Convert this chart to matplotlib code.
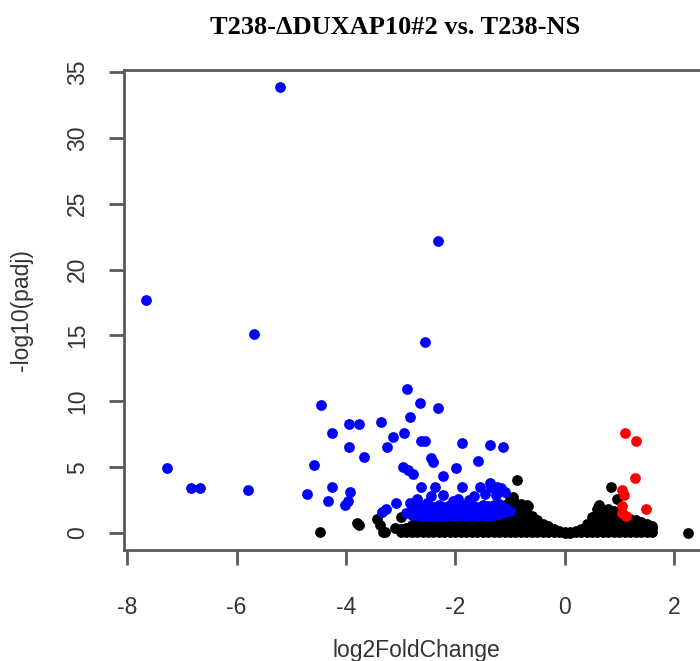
import numpy as np
import matplotlib
matplotlib.use("Agg")
import matplotlib.pyplot as plt

# Genes significativos (down) - azul
blue_lfc = [-5.21, -7.66, -2.32, -5.69, -2.56, -2.88, -2.65, -4.46, -2.32, -3.95,
            -3.77, -3.36, -2.83, -4.25, -2.93, -3.14, -2.62, -2.55, -1.87, -1.36,
            -1.13, -3.95, -3.25, -3.67, -2.44, -2.41, -4.59, -1.58, -1.98, -2.96,
            -2.86, -2.77, -2.22, -4.25, -4.72, -3.93, -4.33, -4.02, -3.96, -2.62,
            -2.38, -2.44, -2.22, -1.87, -1.55, -1.34, -1.16, -7.28, -6.84, -6.67,
            -5.80, -3.26, -3.08, -2.83, -2.52, -1.24, -1.37, -1.45, -1.25, -1.65,
            -1.95, -3.35, -2.70, -2.05, -1.75, -1.10]
blue_padj = [33.9, 17.7, 22.2, 15.1, 14.5, 10.9, 9.9, 9.7, 9.5, 8.3,
             8.3, 8.4, 8.8, 7.6, 7.6, 7.3, 7.0, 7.0, 6.8, 6.7,
             6.5, 6.5, 6.5, 5.8, 5.7, 5.4, 5.2, 5.5, 4.9, 5.0,
             4.8, 4.5, 4.3, 3.5, 3.0, 3.1, 2.4, 2.1, 2.4, 3.5,
             3.5, 2.8, 2.9, 3.5, 3.5, 3.5, 3.4, 4.9, 3.4, 3.45,
             3.3, 1.8, 2.25, 2.25, 2.3, 3.5, 3.8, 3.0, 2.9, 2.8,
             2.6, 1.6, 2.6, 2.4, 2.5, 3.1]

# Faixa densa de genes azuis logo acima do zero
band_lfc = [-2.9, -2.8, -2.7, -2.6, -2.5, -2.4, -2.3, -2.2, -2.1, -2.0,
            -1.9, -1.8, -1.7, -1.6, -1.5, -1.4, -1.3, -1.2, -1.1, -1.0]
band_padj = [[1.5], [1.4, 1.8], [1.35, 1.7, 2.0], [1.3, 1.65, 2.05], [1.3, 1.7, 2.1],
             [1.3, 1.65, 2.0], [1.3, 1.7, 2.1], [1.3, 1.6, 1.95], [1.35, 1.7, 2.1], [1.3, 1.65, 2.0],
             [1.35, 1.7, 2.15], [1.3, 1.6, 2.0], [1.35, 1.7, 2.1], [1.3, 1.65, 2.0], [1.35, 1.7, 2.1],
             [1.3, 1.65, 2.05], [1.4, 1.75, 2.1], [1.45, 1.8, 2.2], [1.6, 1.9], [1.7]]

# Genes significativos (up) - vermelho
red_lfc = [1.10, 1.31, 1.28, 1.05, 1.08, 1.05, 1.48, 1.04, 1.13]
red_padj = [7.6, 7.0, 4.2, 3.3, 2.9, 2.05, 1.8, 1.5, 1.3]

# Genes não significativos isolados - preto
black_lfc = [-4.48, -3.80, -3.44, -3.38, -3.29, -3.11, -2.99, -2.74, -0.88, -0.69,
             0.84, 0.96, 0.62, 2.25, -0.67, -0.95, -3.32, -3.77]
black_padj = [0.05, 0.74, 1.1, 0.6, 0.1, 0.35, 1.2, 0.7, 4.0, 2.1,
              3.5, 2.55, 2.1, 0.03, 2.05, 2.75, 0.05, 0.6]

# Nuvem densa de genes não significativos (colunas)
cloud_lfc = [-3.0, -2.9, -2.8, -2.7, -2.6, -2.5, -2.4, -2.3, -2.2, -2.1,
             -2.0, -1.9, -1.8, -1.7, -1.6, -1.5, -1.4, -1.3, -1.2, -1.1,
             -1.0, -0.9, -0.8, -0.7, -0.6, -0.5, -0.4, -0.3, -0.2, -0.1,
             0.0, 0.1, 0.2, 0.3, 0.4, 0.5, 0.6, 0.7, 0.8, 0.9,
             1.0, 1.1, 1.2, 1.3, 1.4, 1.5, 1.6]
cloud_padj = [
    [0.05, 0.3], [0.05, 0.4], [0.05, 0.35, 0.6], [0.05, 0.35, 0.7], [0.05, 0.4, 0.8],
    [0.05, 0.4, 0.8], [0.05, 0.4, 0.85], [0.05, 0.4, 0.9], [0.05, 0.45, 0.95], [0.05, 0.45, 1.0],
    [0.05, 0.45, 0.9, 1.1], [0.05, 0.45, 0.9, 1.15], [0.05, 0.45, 0.9, 1.2], [0.05, 0.45, 0.9, 1.25],
    [0.05, 0.45, 0.9, 1.3], [0.05, 0.45, 0.9, 1.35], [0.05, 0.45, 0.9, 1.4], [0.05, 0.45, 0.9, 1.35, 1.55],
    [0.05, 0.45, 0.9, 1.35, 1.7], [0.05, 0.45, 0.9, 1.35, 1.8, 2.1],
    [0.05, 0.45, 0.9, 1.35, 1.8, 2.25, 2.6], [0.05, 0.45, 0.9, 1.35, 1.8, 2.3],
    [0.05, 0.45, 0.9, 1.35, 1.8, 2.2], [0.05, 0.45, 0.9, 1.35, 1.75], [0.05, 0.45, 0.9, 1.3],
    [0.05, 0.4, 0.8, 1.0], [0.05, 0.35, 0.7], [0.05, 0.3, 0.5], [0.05, 0.3], [0.05, 0.15],
    [0.02, 0.1], [0.02, 0.1], [0.05, 0.15], [0.05, 0.3], [0.05, 0.35, 0.65],
    [0.05, 0.4, 0.8, 1.2], [0.05, 0.45, 0.9, 1.35, 1.8], [0.05, 0.45, 0.9, 1.35, 1.75],
    [0.05, 0.45, 0.9, 1.35, 1.85], [0.05, 0.45, 0.9, 1.35, 1.7],
    [0.05, 0.45, 0.9, 1.35], [0.05, 0.45, 0.9, 1.2], [0.05, 0.45, 0.9, 1.1], [0.05, 0.45, 0.9, 1.0],
    [0.05, 0.45, 0.85], [0.05, 0.4, 0.7], [0.05, 0.35, 0.5]]

x_ticks = [-8, -6, -4, -2, 0, 2]
y_ticks = [0, 5, 10, 15, 20, 25, 30, 35]

# Montar os pontos das colunas
cx = [x for x, ys in zip(cloud_lfc, cloud_padj) for _ in ys]
cy = [y for ys in cloud_padj for y in ys]
bx = [x for x, ys in zip(band_lfc, band_padj) for _ in ys]
by = [y for ys in band_padj for y in ys]

fig = plt.figure(figsize=(7, 6.61), dpi=100)
ax = fig.add_axes([124 / 700, 111 / 661, 585 / 700, 480 / 661])

size = 60
ax.scatter(cx, cy, s=size, c="black", linewidths=0)
ax.scatter(black_lfc, black_padj, s=size, c="black", linewidths=0)
ax.scatter(bx, by, s=size, c="#0000ff", linewidths=0)
ax.scatter(blue_lfc, blue_padj, s=size, c="#0000ff", linewidths=0)
ax.scatter(red_lfc, red_padj, s=size, c="#ff0000", linewidths=0)

ax.set_xlim(-8.06, 2.64)
ax.set_ylim(-1.29, 35.16)
ax.set_xticks(x_ticks)
ax.set_yticks(y_ticks)
ax.set_xticklabels([str(t) for t in x_ticks])
ax.set_yticklabels([str(t) for t in y_ticks])

for sp in ax.spines.values():
    sp.set_color("#5a5a5a")
    sp.set_linewidth(2.0)

ax.tick_params(axis="both", direction="out", length=11, width=2.0, color="#5a5a5a",
               labelsize=16.5, labelcolor="#333333")
ax.tick_params(axis="x", pad=22)
ax.tick_params(axis="y", pad=14, labelrotation=90)
for lab in ax.get_yticklabels():
    lab.set_va("center")
for lab in ax.get_xticklabels() + ax.get_yticklabels():
    lab.set_family("Liberation Sans")

fig.text(416 / 700, 1 - 650 / 661, "log2FoldChange", ha="center", va="center",
         fontsize=16.5, color="#333333", family="Liberation Sans")
fig.text(22 / 700, 1 - 310 / 661, "-log10(padj)", ha="center", va="center", rotation=90,
         fontsize=16.5, color="#333333", family="Liberation Sans")
fig.text(395 / 700, 1 - 28 / 661, "T238-\u0394DUXAP10#2 vs. T238-NS", ha="center", va="center",
         fontsize=19, fontweight="bold", family="Liberation Serif")

plt.savefig("out.png", dpi=100)
plt.close()
